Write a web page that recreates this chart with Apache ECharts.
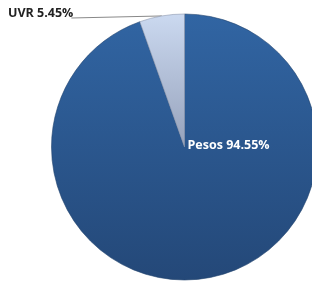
<!DOCTYPE html>
<html><head><meta charset="utf-8">
<script src="https://cdn.jsdelivr.net/npm/echarts@6/dist/echarts.min.js"></script>
<style>html,body{margin:0;padding:0;background:#fff}#c{width:312px;height:281px}</style>
</head><body><div id="c"></div>
<script>
const categories = ["Pesos", "UVR"];
const values = [94.55, 5.45];

const grad = (a, b) => new echarts.graphic.LinearGradient(0, 0, 0, 1, [{offset:0,color:a},{offset:1,color:b}]);
const styles = [
  {color: grad('#3165a3', '#244878'), borderColor: '#23456f', borderWidth: 0.6},
  {color: grad('#cbd9f0', '#96a2bb'), borderColor: '#8a96ad', borderWidth: 0.6}
];
const CX = 184.5, CY = 147;

const chart = echarts.init(document.getElementById('c'), null, {renderer: 'canvas'});
chart.setOption({
  animation: false,
  series: [{
    type: 'pie',
    center: [CX, CY],
    radius: [0, 133],
    startAngle: 90,
    clockwise: true,
    data: categories.map((n, i) => ({
      name: n, value: values[i], itemStyle: styles[i],
      label: i === 0 ? {
        show: true, position: 'center', color: '#ffffff', fontWeight: 'bold', fontSize: 12.5,
        fontFamily: 'Open Sans', formatter: p => p.name + ' ' + p.value.toFixed(2) + '%'
      } : {
        show: true, position: 'outside', color: '#222', fontWeight: 'bold', fontSize: 12.5,
        fontFamily: 'Open Sans', formatter: p => p.name + ' ' + p.value.toFixed(2) + '%'
      },
      labelLine: i === 0 ? {show: false} : {show: true, length: 4, length2: 10, lineStyle: {color: '#888', width: 1}}
    })),
    labelLayout: function (p) {
      if (p.dataIndex === 0) {
        return {x: CX + 3, y: CY - 2, align: 'left', verticalAlign: 'middle'};
      }
      const w = p.labelRect.width;
      const pts = p.labelLinePoints;
      const x = 8, y = 13;
      return {
        x: x, y: y, align: 'left', verticalAlign: 'middle',
        labelLinePoints: [pts[0], [x + w - 2, y + 5], [x + w - 2, y + 5]]
      };
    }
  }]
});
</script></body></html>
